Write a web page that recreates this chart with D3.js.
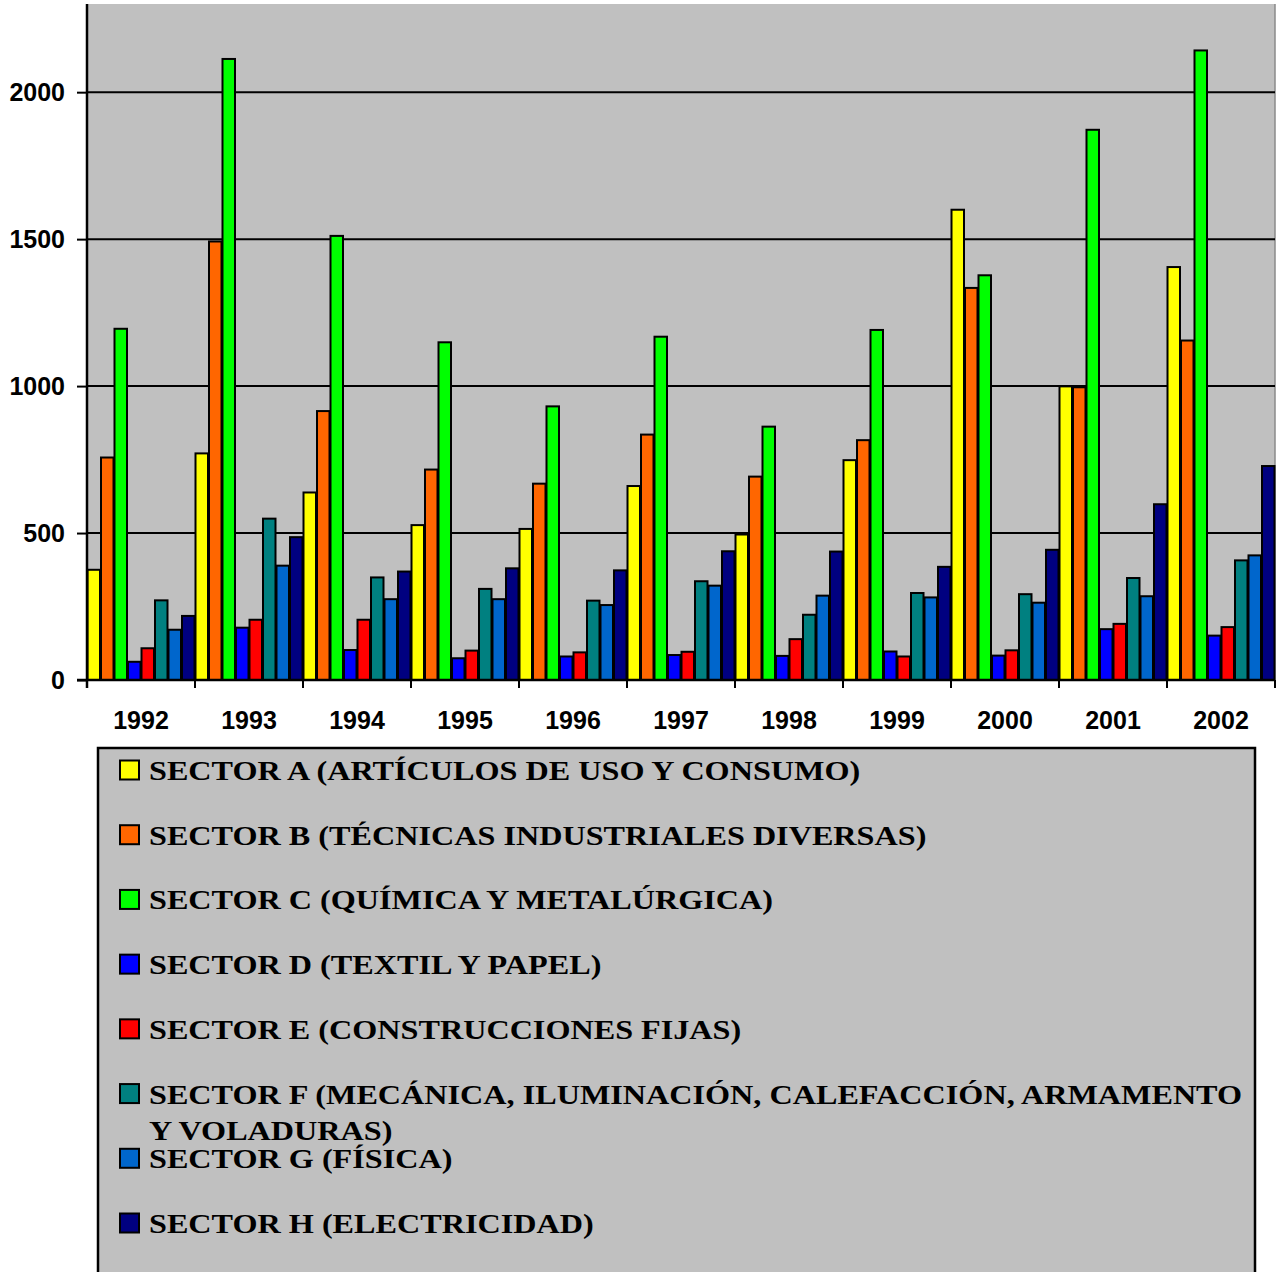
<!DOCTYPE html>
<html>
<head>
<meta charset="utf-8">
<script src="https://cdn.jsdelivr.net/npm/d3@7"></script>
<style>
  html, body { margin: 0; padding: 0; background: #ffffff; }
  svg { display: block; }
</style>
</head>
<body>
<svg id="chart" width="1283" height="1272"></svg>
<script>
// Years on the category axis
const years = ["1992","1993","1994","1995","1996","1997","1998","1999","2000","2001","2002"];

// Sector names, as listed in the legend
const sectors = [
  "SECTOR A (ARTÍCULOS DE USO Y CONSUMO)",
  "SECTOR B (TÉCNICAS INDUSTRIALES DIVERSAS)",
  "SECTOR C (QUÍMICA Y METALÚRGICA)",
  "SECTOR D (TEXTIL Y PAPEL)",
  "SECTOR E (CONSTRUCCIONES FIJAS)",
  "SECTOR F (MECÁNICA, ILUMINACIÓN, CALEFACCIÓN, ARMAMENTO Y VOLADURAS)",
  "SECTOR G (FÍSICA)",
  "SECTOR H (ELECTRICIDAD)"
];

// One series per sector, one value per year
const sectorA = [375, 771, 638, 527, 514, 660, 495, 748, 1600, 999, 1405];
const sectorB = [757, 1492, 915, 716, 668, 835, 692, 816, 1334, 996, 1155];
const sectorC = [1195, 2113, 1511, 1149, 931, 1168, 862, 1191, 1377, 1872, 2142];
const sectorD = [62, 178, 102, 74, 80, 85, 82, 97, 83, 173, 151];
const sectorE = [108, 205, 205, 100, 94, 96, 139, 80, 101, 191, 180];
const sectorF = [271, 549, 349, 310, 270, 336, 222, 296, 292, 347, 407];
const sectorG = [171, 389, 275, 275, 255, 321, 287, 281, 263, 285, 424];
const sectorH = [218, 486, 369, 380, 373, 438, 437, 385, 443, 598, 728];

// Value axis ticks
const yTicks = [0, 500, 1000, 1500, 2000];

const series = [sectorA, sectorB, sectorC, sectorD, sectorE, sectorF, sectorG, sectorH];
const colors = ["#ffff00", "#ff6600", "#00ff00", "#0000ff", "#ff0000", "#008080", "#0066cc", "#000080"];

const svg = d3.select("#chart");

const plot = { left: 87, right: 1275, top: 4, bottom: 680 };

const x0 = d3.scaleBand().domain(years).range([plot.left, plot.right]).paddingInner(0).paddingOuter(0);
const x1 = d3.scaleBand().domain(d3.range(sectors.length)).range([0, x0.bandwidth()]).padding(0);
const y = d3.scaleLinear().domain([0, 2300]).range([plot.bottom, plot.top]);

// Plot background
svg.append("rect")
  .attr("x", plot.left).attr("y", plot.top)
  .attr("width", plot.right - plot.left).attr("height", plot.bottom - plot.top)
  .attr("fill", "#c0c0c0");
svg.append("line")
  .attr("x1", plot.right).attr("x2", plot.right)
  .attr("y1", plot.top).attr("y2", plot.bottom)
  .attr("stroke", "#8a8a8a").attr("stroke-width", 1.5);

// Horizontal gridlines
svg.append("g")
  .selectAll("line")
  .data(yTicks.filter(d => d > 0))
  .join("line")
  .attr("x1", plot.left).attr("x2", plot.right)
  .attr("y1", d => y(d)).attr("y2", d => y(d))
  .attr("stroke", "#000").attr("stroke-width", 2);

// Bars
const rows = years.map((yr, i) => ({ year: yr, values: series.map(s => s[i]) }));
svg.append("g")
  .selectAll("g")
  .data(rows)
  .join("g")
  .attr("transform", d => `translate(${x0(d.year)},0)`)
  .selectAll("rect")
  .data(d => d.values.map((v, k) => ({ k, v })))
  .join("rect")
  .attr("x", d => x1(d.k) + 0.5)
  .attr("width", x1.bandwidth() - 1)
  .attr("y", d => y(d.v))
  .attr("height", d => y(0) - y(d.v))
  .attr("fill", d => colors[d.k])
  .attr("stroke", "#000")
  .attr("stroke-width", 2);

const sans = "'Liberation Sans', Arial, sans-serif";

// Y axis
const yAxis = d3.axisLeft(y).tickValues(yTicks).tickSize(10).tickPadding(12).tickFormat(d3.format("d"));
const gy = svg.append("g").attr("transform", `translate(${plot.left},0)`).call(yAxis);
gy.select(".domain").attr("stroke", "#000").attr("stroke-width", 2.5)
  .attr("d", `M0,${plot.top}V${plot.bottom + 8}`);
gy.selectAll(".tick line").attr("stroke", "#000").attr("stroke-width", 2);
gy.selectAll(".tick text")
  .attr("font-family", sans)
  .attr("font-weight", "bold").attr("font-size", 25).attr("fill", "#000");

// X axis: ticks at category boundaries, labels centred on categories
const gx = svg.append("g").attr("transform", `translate(0,${plot.bottom})`);
gx.append("line")
  .attr("x1", plot.left - 10).attr("x2", plot.right)
  .attr("y1", 0).attr("y2", 0)
  .attr("stroke", "#000").attr("stroke-width", 2.5);
const bounds = years.map(d => x0(d)).concat([plot.right]);
gx.selectAll("line.tk")
  .data(bounds)
  .join("line").attr("class", "tk")
  .attr("x1", d => d).attr("x2", d => d)
  .attr("y1", 0).attr("y2", 8)
  .attr("stroke", "#000").attr("stroke-width", 2);
gx.selectAll("text")
  .data(years)
  .join("text")
  .attr("x", d => x0(d) + x0.bandwidth() / 2)
  .attr("y", 49)
  .attr("text-anchor", "middle")
  .attr("font-family", sans)
  .attr("font-weight", "bold").attr("font-size", 25).attr("fill", "#000")
  .text(d => d);

// Legend
const legend = svg.append("g");
legend.append("rect")
  .attr("x", 98).attr("y", 748)
  .attr("width", 1157).attr("height", 600)
  .attr("fill", "#c0c0c0").attr("stroke", "#000").attr("stroke-width", 2.5);

const rowY = d3.scaleLinear().domain([0, sectors.length - 1]).range([770, 1223]);
const serif = "'Liberation Serif', 'Times New Roman', serif";
const items = legend.selectAll("g.item")
  .data(sectors.map((s, k) => ({ s, k })))
  .join("g").attr("class", "item")
  .attr("transform", d => `translate(0,${rowY(d.k)})`);
items.append("rect")
  .attr("x", 120).attr("y", -9.5).attr("width", 19).attr("height", 19)
  .attr("fill", d => colors[d.k]).attr("stroke", "#000").attr("stroke-width", 2);
items.each(function(d) {
  // Labels are set in a wide bold serif; the long F label wraps after "ARMAMENTO"
  const g = d3.select(this).append("g").attr("transform", "translate(149,0) scale(1.15,1)");
  const lines = d.k === 5
    ? ["SECTOR F (MECÁNICA, ILUMINACIÓN, CALEFACCIÓN, ARMAMENTO", "Y VOLADURAS)"]
    : [d.s];
  lines.forEach((t, i) => {
    g.append("text")
      .attr("x", 0).attr("y", 10 + i * 36)
      .attr("font-family", serif).attr("font-weight", "bold")
      .attr("font-size", 28).attr("fill", "#000")
      .text(t);
  });
});
</script>
</body>
</html>
